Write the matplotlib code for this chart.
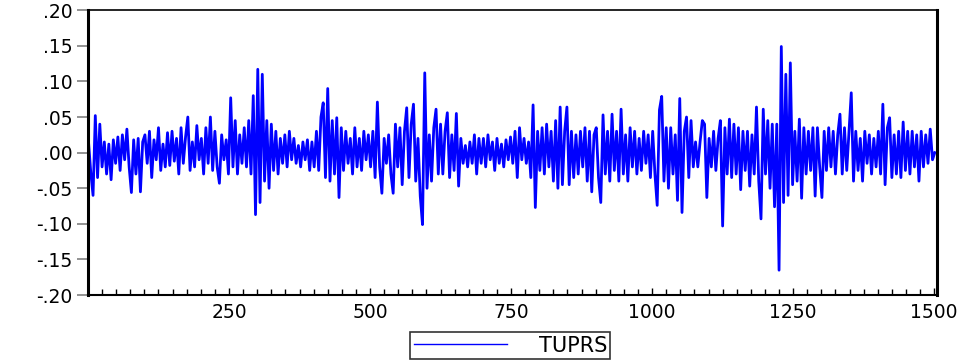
import numpy as np
import matplotlib.pyplot as plt
from matplotlib.ticker import FixedLocator, MultipleLocator, FuncFormatter

obs = np.arange(1, 1502, 4)

tuprs = [
    # 1-100
    0.015, -0.028, -0.060, 0.052, -0.035, 0.040, -0.020, 0.015, -0.030, 0.012,
    -0.038, 0.018, -0.015, 0.022, -0.025, 0.025, -0.010, 0.033, -0.020, -0.056,
    0.018, -0.030, 0.020, -0.055, 0.015,
    # 101-200
    0.025, -0.015, 0.030, -0.035, 0.018, -0.010, 0.035, -0.025, 0.012, -0.020,
    0.028, -0.018, 0.030, -0.012, 0.020, -0.030, 0.035, -0.015, 0.022, 0.050,
    -0.025, 0.015, -0.020, 0.038, -0.010,
    # 201-300
    0.020, -0.030, 0.035, -0.015, 0.050, -0.025, 0.030, -0.020, -0.043, 0.025,
    -0.010, 0.018, -0.030, 0.077, -0.020, 0.045, -0.030, 0.025, -0.015, 0.035,
    -0.020, 0.045, -0.030, 0.080, -0.087,
    # 301-400
    0.117, -0.070, 0.110, -0.040, 0.045, -0.050, 0.040, -0.025, 0.030, -0.030,
    0.020, -0.015, 0.025, -0.020, 0.030, -0.010, 0.020, -0.015, 0.010, -0.020,
    0.015, -0.010, 0.018, -0.025, 0.015,
    # 401-500
    -0.020, 0.030, -0.025, 0.050, 0.070, -0.035, 0.090, -0.040, 0.045, -0.030,
    0.049, -0.063, 0.035, -0.025, 0.030, -0.015, 0.020, -0.030, 0.035, -0.020,
    0.020, -0.025, 0.030, -0.010, 0.025,
    # 501-600
    -0.020, 0.030, -0.035, 0.071, -0.020, -0.057, 0.020, -0.015, 0.025, -0.030,
    -0.057, 0.040, -0.020, 0.035, -0.045, 0.030, 0.063, -0.035, 0.040, 0.068,
    -0.040, 0.020, -0.061, -0.101, 0.112,
    # 601-700
    -0.050, 0.025, -0.040, 0.035, 0.061, -0.030, 0.040, -0.030, 0.030, 0.056,
    -0.035, 0.025, -0.025, 0.055, -0.047, 0.020, -0.015, 0.010, -0.020, 0.015,
    -0.015, 0.025, -0.030, 0.020, -0.015,
    # 701-800
    0.020, -0.020, 0.025, -0.010, 0.015, -0.025, 0.020, -0.015, 0.012, -0.020,
    0.018, -0.010, 0.022, -0.015, 0.030, -0.035, 0.035, -0.010, 0.020, -0.015,
    0.015, -0.035, 0.067, -0.077, 0.030,
    # 801-900
    -0.025, 0.035, -0.030, 0.040, -0.020, 0.030, -0.040, 0.045, -0.050, 0.064,
    -0.045, 0.030, 0.064, -0.045, 0.030, -0.035, 0.025, -0.030, 0.030, -0.020,
    0.035, -0.040, 0.030, -0.055, 0.025,
    # 901-1000
    0.035, -0.035, -0.070, 0.053, -0.030, 0.030, -0.040, 0.054, -0.025, 0.030,
    -0.040, 0.061, -0.030, 0.025, -0.040, 0.035, -0.020, 0.030, -0.030, 0.020,
    -0.025, 0.030, -0.015, 0.025, -0.035,
    # 1001-1100
    0.030, -0.030, -0.074, 0.060, 0.079, -0.040, 0.035, -0.050, 0.035, -0.030,
    0.025, -0.067, 0.076, -0.084, 0.030, 0.050, -0.035, 0.045, -0.020, 0.015,
    -0.020, 0.015, 0.045, 0.040, -0.063,
    # 1101-1200
    0.020, -0.020, 0.030, -0.025, 0.020, 0.045, -0.103, 0.035, -0.030, 0.047,
    -0.035, 0.040, -0.030, 0.035, -0.052, 0.030, -0.025, 0.030, -0.047, 0.025,
    -0.030, 0.064, -0.040, -0.093, 0.061,
    # 1201-1300
    -0.030, 0.045, -0.050, 0.040, -0.076, 0.040, -0.165, 0.149, -0.070, 0.110,
    -0.060, 0.126, -0.045, 0.030, -0.040, 0.047, -0.064, 0.035, -0.030, 0.030,
    -0.025, 0.035, -0.061, 0.035, -0.020,
    # 1301-1400
    -0.063, 0.030, -0.025, 0.035, -0.020, 0.030, -0.030, 0.025, 0.054, -0.030,
    0.035, -0.025, 0.030, 0.084, -0.040, 0.030, -0.025, 0.020, -0.040, 0.030,
    -0.015, 0.025, -0.030, 0.020, -0.020,
    # 1401-1501
    0.030, -0.030, 0.068, -0.045, 0.035, 0.049, -0.035, 0.025, -0.030, 0.030,
    -0.035, 0.043, -0.025, 0.030, -0.030, 0.030, -0.020, 0.025, -0.040, 0.030,
    -0.020, 0.025, -0.015, 0.033, -0.010, 0.000,
]

yticks = [-0.20, -0.15, -0.10, -0.05, 0.00, 0.05, 0.10, 0.15, 0.20]
xticks = [250, 500, 750, 1000, 1250, 1500]


def eviews_fmt(v, pos):
    s = '{:.2f}'.format(v)
    if s.startswith('0'):
        s = s[1:]
    elif s.startswith('-0'):
        s = '-' + s[2:]
    return s


fig = plt.figure(figsize=(9.72, 3.63), dpi=100)
ax = fig.add_axes([0.0905, 0.187, 0.8735, 0.785])

line, = ax.plot(obs, tuprs, color='#0000ff', linewidth=2.0, label='TUPRS')

ax.set_xlim(0, 1505)
ax.set_ylim(-0.20, 0.20)

ax.yaxis.set_major_locator(FixedLocator(yticks))
ax.yaxis.set_major_formatter(FuncFormatter(eviews_fmt))
ax.xaxis.set_major_locator(FixedLocator(xticks))
ax.xaxis.set_minor_locator(MultipleLocator(25))

ax.tick_params(axis='y', direction='out', length=8, width=1.2, color='#808080',
               labelsize=13.5, pad=3)
ax.tick_params(axis='x', which='major', direction='in', length=5, width=1,
               color='black', labelsize=13.5, pad=6)
ax.tick_params(axis='x', which='minor', direction='in', length=4, width=1,
               color='black')
ax.tick_params(right=False, top=False)

for side, lw in [('left', 2.2), ('right', 2.2), ('bottom', 1.5), ('top', 1.2)]:
    ax.spines[side].set_linewidth(lw)
    ax.spines[side].set_color('black')

leg = fig.legend(handles=[line], loc='center', bbox_to_anchor=(0.525, 0.048),
                 frameon=True, fancybox=False, fontsize=15, handlelength=4.5,
                 handletextpad=1.5, borderpad=0.15)
leg.get_frame().set_edgecolor('black')
leg.get_frame().set_linewidth(1.2)
leg.get_lines()[0].set_linewidth(1.0)

fig.savefig('out.png', dpi=100)
